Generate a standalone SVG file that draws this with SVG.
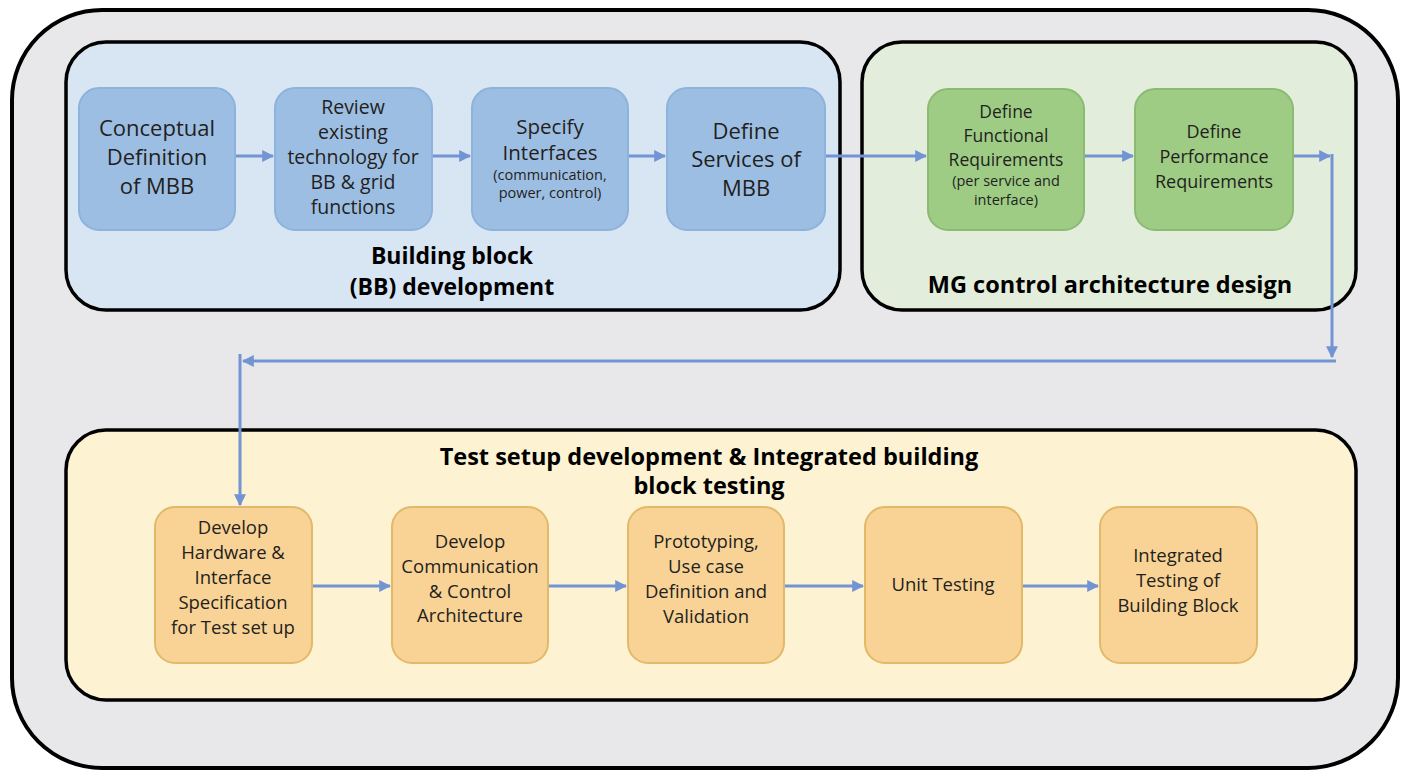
<svg xmlns="http://www.w3.org/2000/svg" width="1406" height="778" viewBox="0 0 1406 778">
<defs>
<style>
.panel{stroke:#000;stroke-width:3.5}
.bn{fill:#9dbee3;stroke:#8db2dc;stroke-width:2}
.gn{fill:#9ecc85;stroke:#8cba73;stroke-width:2}
.yn{fill:#f9d396;stroke:#e2b96a;stroke-width:2}
text{font-family:"Open Sans","Liberation Sans",sans-serif;fill:#231f20;text-anchor:middle}
.t{font-weight:bold;fill:#000}
.c{fill:none;stroke:#7394d3;stroke-width:3}
</style>
<marker id="ah" viewBox="0 0 10 10" refX="9" refY="5" markerWidth="4" markerHeight="4" orient="auto" markerUnits="strokeWidth">
<path d="M0,0 L10,5 L0,10 z" fill="#7394d3"/>
</marker>
</defs>
<rect x="0" y="0" width="1406" height="778" fill="#ffffff"/>
<g id="outer">
<rect x="12" y="10" width="1386" height="758" rx="90" ry="90" fill="#e8e8ea" stroke="#000" stroke-width="4"/>
</g>
<g id="panel-bb">
<rect class="panel" x="66" y="42" width="774" height="268" rx="40" fill="#d8e5f3"/>
<text class="t" x="452" y="264" font-size="23">Building block</text>
<text class="t" x="452" y="295" font-size="23">(BB) development</text>
</g>
<g id="panel-mg">
<rect class="panel" x="862" y="42" width="494" height="268" rx="40" fill="#e2eedb"/>
<text class="t" x="1110" y="293" font-size="23.5">MG control architecture design</text>
</g>
<g id="panel-test">
<rect class="panel" x="66" y="430" width="1290" height="270" rx="40" fill="#fdf2d1"/>
<text class="t" x="709" y="465" font-size="23.5">Test setup development &amp; Integrated building</text>
<text class="t" x="709" y="494" font-size="23.5">block testing</text>
</g>
<g id="connectors">
<line class="c" x1="236" y1="156" x2="273" y2="156" marker-end="url(#ah)"/>
<line class="c" x1="433" y1="156" x2="470" y2="156" marker-end="url(#ah)"/>
<line class="c" x1="629" y1="156" x2="665" y2="156" marker-end="url(#ah)"/>
<line class="c" x1="826" y1="156" x2="926" y2="156" marker-end="url(#ah)"/>
<line class="c" x1="1084" y1="156" x2="1133" y2="156" marker-end="url(#ah)"/>
<line class="c" x1="1294" y1="156" x2="1330" y2="156" marker-end="url(#ah)"/>
<line class="c" x1="1332" y1="154" x2="1332" y2="357" marker-end="url(#ah)"/>
<line class="c" x1="1336" y1="361" x2="243" y2="361" marker-end="url(#ah)"/>
<line class="c" x1="240" y1="354" x2="240" y2="505" marker-end="url(#ah)"/>
<line class="c" x1="313" y1="586" x2="390" y2="586" marker-end="url(#ah)"/>
<line class="c" x1="549" y1="586" x2="626" y2="586" marker-end="url(#ah)"/>
<line class="c" x1="785" y1="586" x2="863" y2="586" marker-end="url(#ah)"/>
<line class="c" x1="1023" y1="586" x2="1098" y2="586" marker-end="url(#ah)"/>
</g>
<g id="n1">
<rect class="bn" x="79" y="88" width="156" height="142" rx="20"/>
<text x="157" y="136" font-size="22">Conceptual</text>
<text x="157" y="165" font-size="22">Definition</text>
<text x="157" y="194" font-size="22">of MBB</text>
</g>
<g id="n2">
<rect class="bn" x="275" y="88" width="157" height="142" rx="20"/>
<text x="353" y="114" font-size="19.5">Review</text>
<text x="353" y="139" font-size="19.5">existing</text>
<text x="353" y="164" font-size="19.5">technology for</text>
<text x="353" y="189" font-size="19.5">BB &amp; grid</text>
<text x="353" y="214" font-size="19.5">functions</text>
</g>
<g id="n3">
<rect class="bn" x="472" y="88" width="156" height="142" rx="20"/>
<text x="550" y="134" font-size="20.5">Specify</text>
<text x="550" y="160" font-size="20.5">Interfaces</text>
<text x="550" y="180" font-size="14.5">(communication,</text>
<text x="550" y="198" font-size="14.5">power, control)</text>
</g>
<g id="n4">
<rect class="bn" x="667" y="88" width="158" height="142" rx="20"/>
<text x="746" y="139" font-size="22">Define</text>
<text x="746" y="167" font-size="22">Services of</text>
<text x="746" y="196" font-size="22">MBB</text>
</g>
<g id="g1">
<rect class="gn" x="928" y="89" width="156" height="141" rx="20"/>
<text x="1006" y="118" font-size="17.5">Define</text>
<text x="1006" y="142" font-size="17.5">Functional</text>
<text x="1006" y="166" font-size="17.5">Requirements</text>
<text x="1006" y="186" font-size="14.5">(per service and</text>
<text x="1006" y="205" font-size="14.5">interface)</text>
</g>
<g id="g2">
<rect class="gn" x="1135" y="89" width="158" height="141" rx="20"/>
<text x="1214" y="138" font-size="18">Define</text>
<text x="1214" y="163" font-size="18">Performance</text>
<text x="1214" y="188" font-size="18">Requirements</text>
</g>
<g id="y1">
<rect class="yn" x="155" y="507" width="157" height="156" rx="20"/>
<text x="233" y="534" font-size="18.5">Develop</text>
<text x="233" y="559" font-size="18.5">Hardware &amp;</text>
<text x="233" y="584" font-size="18.5">Interface</text>
<text x="233" y="609" font-size="18.5">Specification</text>
<text x="233" y="634" font-size="18.5">for Test set up</text>
</g>
<g id="y2">
<rect class="yn" x="392" y="507" width="156" height="156" rx="20"/>
<text x="470" y="548" font-size="18.5">Develop</text>
<text x="470" y="573" font-size="18.5">Communication</text>
<text x="470" y="598" font-size="18.5">&amp; Control</text>
<text x="470" y="622" font-size="18.5">Architecture</text>
</g>
<g id="y3">
<rect class="yn" x="628" y="507" width="156" height="156" rx="20"/>
<text x="706" y="548" font-size="18.5">Prototyping,</text>
<text x="706" y="573" font-size="18.5">Use case</text>
<text x="706" y="598" font-size="18.5">Definition and</text>
<text x="706" y="623" font-size="18.5">Validation</text>
</g>
<g id="y4">
<rect class="yn" x="865" y="507" width="157" height="156" rx="20"/>
<text x="943" y="591" font-size="18.5">Unit Testing</text>
</g>
<g id="y5">
<rect class="yn" x="1100" y="507" width="157" height="156" rx="20"/>
<text x="1178" y="562" font-size="18.5">Integrated</text>
<text x="1178" y="587" font-size="18.5">Testing of</text>
<text x="1178" y="612" font-size="18.5">Building Block</text>
</g>
</svg>
